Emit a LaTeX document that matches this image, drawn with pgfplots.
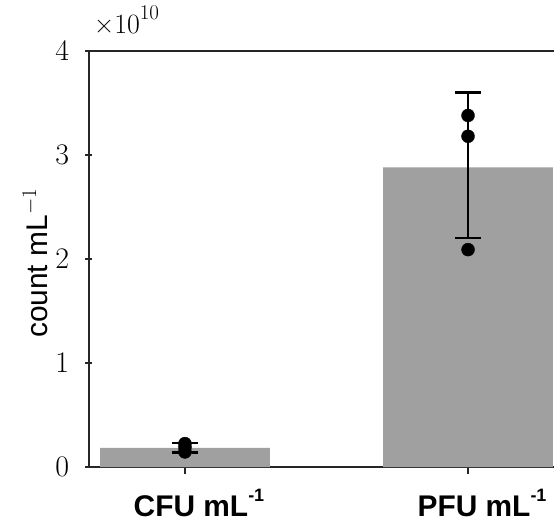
\documentclass[border=0pt]{standalone}
\usepackage{pgfplots}
\pgfplotsset{compat=1.18}
\usepackage{fontspec}
\usepackage{anyfontsize}
\newfontfamily\arialfont{Liberation Sans}
\definecolor{bargray}{RGB}{160,160,160}
\newcommand{\sups}[1]{\raisebox{0.5em}{\fontsize{18}{20}\selectfont #1}}
\begin{document}
\begin{tikzpicture}
\begin{axis}[
  at={(0,0)}, anchor=south west,
  scale only axis,
  width=475bp, height=416bp,
  xmin=-0.339, xmax=1.339,
  ymin=0, ymax=4e10,
  ytick={0,1e10,2e10,3e10,4e10},
  xtick={0,1},
  /pgf/number format/assume math mode=true,
  xticklabels={{\arialfont\bfseries CFU mL\sups{-1}},{\arialfont\bfseries PFU mL\sups{-1}}},
  xticklabel style={font=\fontsize{30}{34}\selectfont, anchor=base, xshift=14bp, yshift=-42bp},
  yticklabel style={font=\fontsize{30}{34}\selectfont, anchor=east, xshift=-13bp},
  ylabel={\arialfont count mL$^{-1}$},
  every axis y label/.style={at={(rel axis cs:-0.0884,0.49)}, rotate=90, anchor=base, font=\fontsize{30}{34}\selectfont},
  ytick scale label code/.code={},
  title={\fontsize{28}{32}\selectfont ×10\raisebox{0.5em}{\fontsize{21}{24}\selectfont 10}},
  title style={at={(rel axis cs:0,1)}, anchor=base west, inner sep=0pt, xshift=5bp, yshift=12bp},
  ytick pos=left, xtick pos=bottom,
  ytick align=center, xtick align=outside,
  major tick length=7bp,
  axis line style={line width=1.3bp, black!85},
  tick style={line width=1.3bp, black!85},
  clip=false,
]
\addplot[ybar, bar width=0.6, fill=bargray, draw=none] coordinates {(0,0.183e10) (1,2.88e10)};
\addplot[draw=none, mark=none,
  error bars/.cd, y dir=both, y explicit, error bar style={draw=black, line width=1.8bp},
  error mark options={draw=black, rotate=90, mark size=13bp, line width=2.4bp}]
  coordinates {(0,0.185e10) +- (0,0.045e10) (1,2.9e10) +- (0,0.7e10)};
\addplot[only marks, mark=*, mark size=6.5bp, black] coordinates {
  (0,0.225e10) (0,0.19e10) (0,0.145e10)
  (1,3.38e10) (1,3.18e10) (1,2.09e10)};
\end{axis}
\pgfresetboundingbox
\useasboundingbox (-89bp,-59bp) rectangle (465bp,467bp);
\end{tikzpicture}
\end{document}
